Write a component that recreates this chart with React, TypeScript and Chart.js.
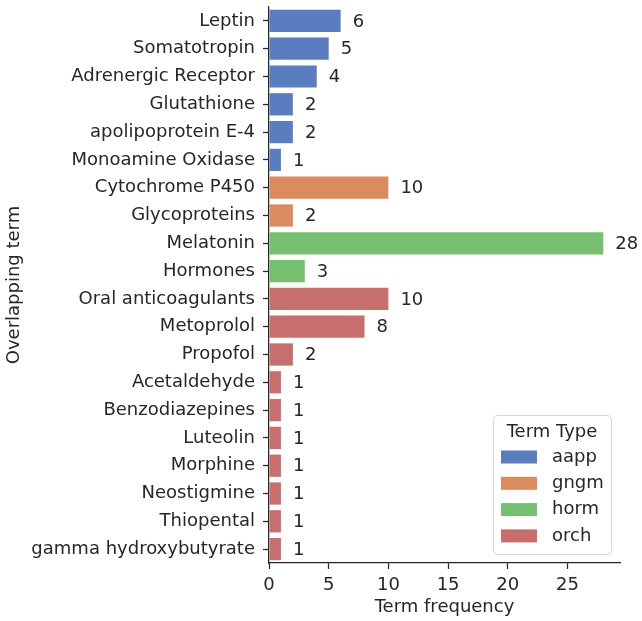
import React, { useEffect, useRef } from "react";
import { Chart, registerables } from "chart.js";

Chart.register(...registerables);

const terms = [
  "Leptin",
  "Somatotropin",
  "Adrenergic Receptor",
  "Glutathione",
  "apolipoprotein E-4",
  "Monoamine Oxidase",
  "Cytochrome P450",
  "Glycoproteins",
  "Melatonin",
  "Hormones",
  "Oral anticoagulants",
  "Metoprolol",
  "Propofol",
  "Acetaldehyde",
  "Benzodiazepines",
  "Luteolin",
  "Morphine",
  "Neostigmine",
  "Thiopental",
  "gamma hydroxybutyrate",
];
const frequencies = [6, 5, 4, 2, 2, 1, 10, 2, 28, 3, 10, 8, 2, 1, 1, 1, 1, 1, 1, 1];
const termTypes = [
  "aapp", "aapp", "aapp", "aapp", "aapp", "aapp",
  "gngm", "gngm",
  "horm", "horm",
  "orch", "orch", "orch", "orch", "orch", "orch", "orch", "orch", "orch", "orch",
];
const typeNames = ["aapp", "gngm", "horm", "orch"];
const typeColors = ["#597dbf", "#da8b5f", "#76bf71", "#c76e6e"];
const xTickValues = [0, 5, 10, 15, 20, 25];
const xMax = 29.4;

const FONT = "DejaVu Sans";
const FS = 18;
const TEXT = "#262626";

const valueLabels = {
  id: "valueLabels",
  afterDatasetsDraw(chart: any) {
    const { ctx } = chart;
    const meta = chart.getDatasetMeta(0);
    ctx.save();
    ctx.font = `${FS}px "${FONT}"`;
    ctx.fillStyle = TEXT;
    ctx.textAlign = "left";
    ctx.textBaseline = "middle";
    meta.data.forEach((bar: any, i: number) => {
      ctx.fillText(String(frequencies[i]), bar.x + 12, bar.y + 1);
    });
    ctx.restore();
  },
};

const typeLegend = {
  id: "typeLegend",
  afterDraw(chart: any) {
    const { ctx, chartArea } = chart;
    const w = 118;
    const h = 139;
    const right = chartArea.right - 9;
    const bottom = chartArea.bottom - 9;
    const left = right - w;
    const top = bottom - h;
    ctx.save();
    ctx.beginPath();
    ctx.roundRect(left + 0.5, top + 0.5, w, h, 4);
    ctx.fillStyle = "rgba(255,255,255,0.85)";
    ctx.fill();
    ctx.strokeStyle = "#d6d6d6";
    ctx.lineWidth = 1;
    ctx.stroke();
    ctx.font = `${FS}px "${FONT}"`;
    ctx.fillStyle = TEXT;
    ctx.textBaseline = "middle";
    ctx.textAlign = "center";
    ctx.fillText("Term Type", left + w / 2, top + 17);
    ctx.textAlign = "left";
    typeNames.forEach((name, i) => {
      const cy = top + 42 + i * 26.3;
      ctx.fillStyle = typeColors[i];
      ctx.fillRect(left + 8, cy - 6.5, 36, 13);
      ctx.fillStyle = TEXT;
      ctx.fillText(name, left + 59, cy);
    });
    ctx.restore();
  },
};

export default function App() {
  const ref = useRef<HTMLCanvasElement | null>(null);

  useEffect(() => {
    document.body.style.margin = "0";
    const canvas = ref.current;
    if (!canvas) return;
    const colors = termTypes.map((t) => typeColors[typeNames.indexOf(t)]);
    const chart = new Chart(canvas, {
      type: "bar",
      data: {
        labels: terms,
        datasets: [
          {
            data: frequencies,
            backgroundColor: colors,
            borderWidth: 0,
            categoryPercentage: 0.8,
            barPercentage: 1,
          },
        ],
      },
      options: {
        indexAxis: "y",
        responsive: false,
        animation: false,
        devicePixelRatio: 1,
        layout: { padding: { top: 7, right: 22, left: 0, bottom: 0 } },
        plugins: {
          legend: { display: false },
          tooltip: { enabled: false },
        },
        scales: {
          x: {
            type: "linear",
            min: 0,
            max: xMax,
            afterBuildTicks: (scale: any) => {
              scale.ticks = xTickValues.map((v) => ({ value: v }));
            },
            afterFit: (scale: any) => {
              scale.height = 58;
              scale.paddingLeft = 0;
              scale.paddingRight = 0;
            },
            ticks: {
              color: TEXT,
              font: { family: FONT, size: FS },
              padding: 6,
              maxRotation: 0,
            },
            grid: {
              drawOnChartArea: false,
              drawTicks: true,
              tickLength: 6,
              tickWidth: 1.25,
              tickColor: TEXT,
            },
            border: { display: true, color: TEXT, width: 1.25 },
            title: {
              display: true,
              text: "Term frequency",
              color: TEXT,
              font: { family: FONT, size: FS },
              padding: { top: 0, bottom: 3 },
            },
          },
          y: {
            type: "category",
            offset: true,
            afterFit: (scale: any) => {
              scale.width = 269;
              scale.paddingTop = 0;
              scale.paddingBottom = 0;
            },
            ticks: {
              color: TEXT,
              font: { family: FONT, size: FS },
              padding: 8,
              autoSkip: false,
            },
            grid: {
              drawOnChartArea: false,
              drawTicks: true,
              tickLength: 6,
              tickWidth: 1.25,
              tickColor: TEXT,
              offset: false,
            },
            border: { display: true, color: TEXT, width: 1.25 },
            title: {
              display: true,
              text: "Overlapping term",
              color: TEXT,
              font: { family: FONT, size: FS },
              padding: { top: 4, bottom: 0 },
            },
          },
        },
      },
      plugins: [valueLabels, typeLegend],
    });
    return () => chart.destroy();
  }, []);

  return (
    <div style={{ position: "absolute", left: 0, top: 0, width: 642, height: 621, background: "#fff" }}>
      <canvas ref={ref} width={642} height={621} style={{ display: "block" }} />
    </div>
  );
}
